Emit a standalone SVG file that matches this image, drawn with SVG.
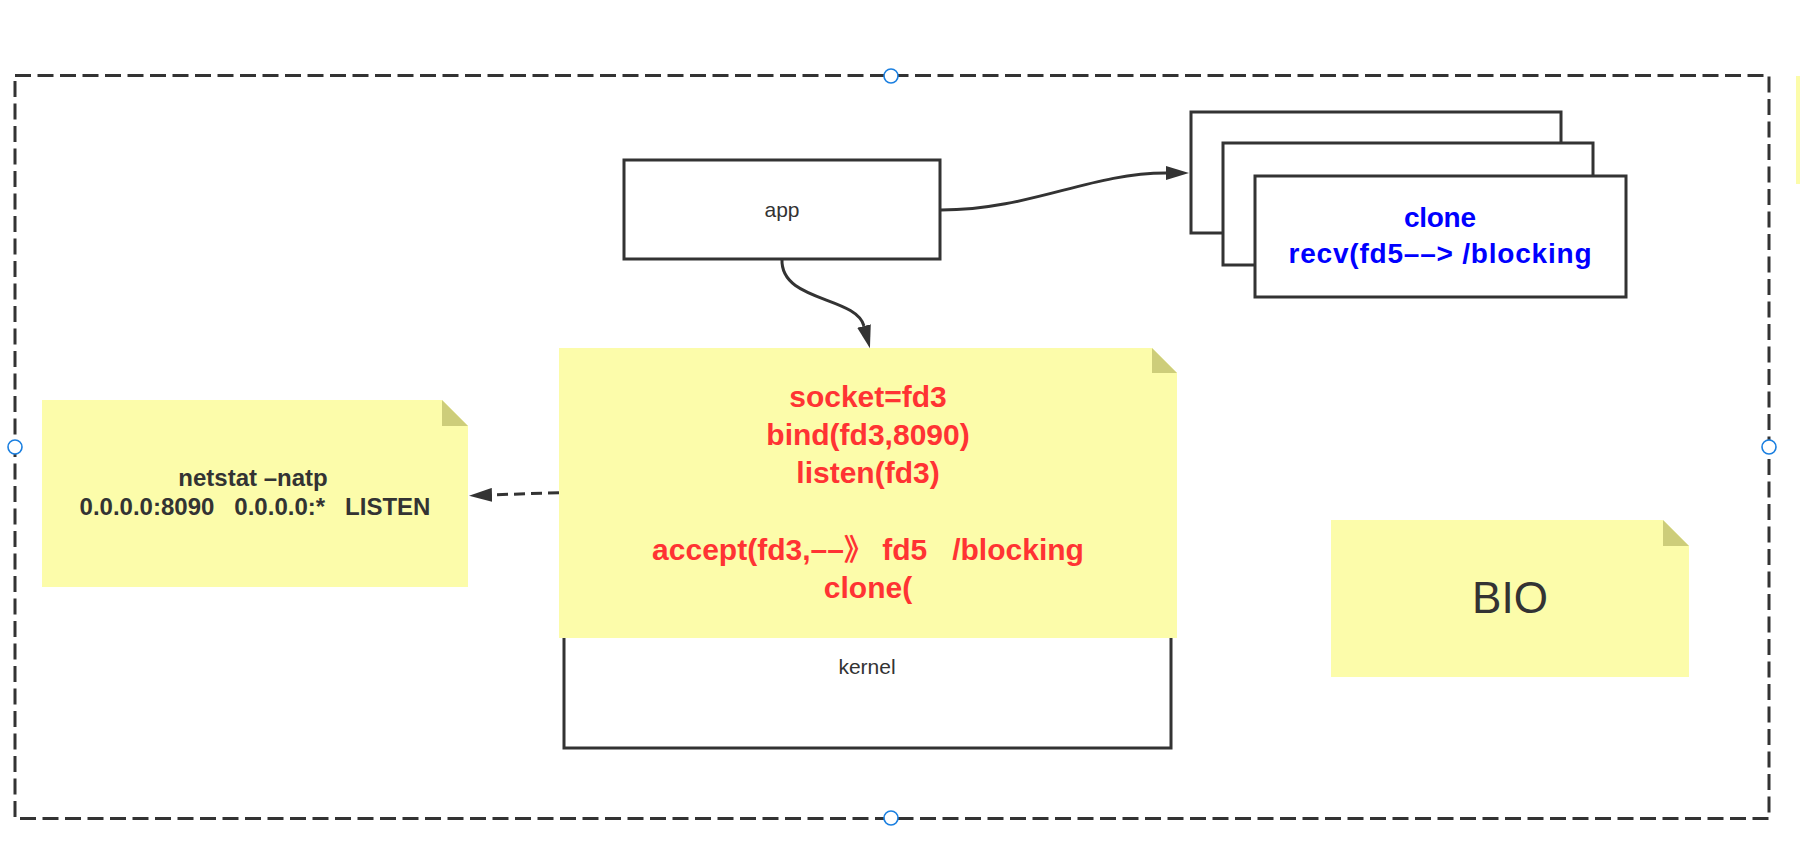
<svg xmlns="http://www.w3.org/2000/svg" width="1800" height="852" viewBox="0 0 1800 852">
  <defs>
    <style>
      .box { fill: #ffffff; stroke: #333333; stroke-width: 3; }
      .note { fill: #fcfcaa; stroke: none; }
      .fold { fill: #cdcd7a; stroke: none; }
      .frame { fill: none; stroke: #333333; stroke-width: 3; stroke-dasharray: 16 6.5; }
      .handle { fill: #ffffff; stroke: #1a7fe0; stroke-width: 1.6; }
      .conn { fill: none; stroke: #333333; stroke-width: 3; }
      .dash { stroke-dasharray: 11 6; }
      .t { font-family: "Liberation Sans", "Noto Sans CJK SC", Arial, sans-serif; text-anchor: middle; }
      .small { font-size: 21px; fill: #333333; }
      .red { font-size: 30px; font-weight: bold; fill: #ff3333; }
      .blue { font-size: 28px; font-weight: bold; fill: #0000ff; }
      .dark { font-size: 24px; font-weight: bold; fill: #333333; }
      .big { font-size: 44px; fill: #333333; }
    </style>
    <marker id="arrow" markerUnits="userSpaceOnUse" markerWidth="24" markerHeight="14" refX="0" refY="7" orient="auto">
      <path d="M0,0 L23,7 L0,14 Z" fill="#333333"/>
    </marker>
  </defs>

  <rect width="1800" height="852" fill="#ffffff"/>

  <g id="frame">
    <rect class="frame" x="15" y="75.5" width="1754" height="743"/>
    <rect x="1796" y="76" width="10" height="108" fill="#fcfcaa"/>
  </g>

  <g id="kernel">
    <rect class="box" x="564" y="480" width="607" height="268"/>
    <text class="t small" x="867" y="674">kernel</text>
  </g>

  <g id="app">
    <rect class="box" x="624" y="160" width="316" height="99"/>
    <text class="t small" x="782" y="217">app</text>
  </g>

  <g id="clones">
    <rect class="box" x="1191" y="112" width="370" height="121"/>
    <rect class="box" x="1223" y="143" width="370" height="122"/>
    <rect class="box" x="1255" y="176" width="371" height="121"/>
    <text class="t blue" x="1440" y="227" textLength="72" lengthAdjust="spacing">clone</text>
    <text class="t blue" x="1440" y="263" textLength="303" lengthAdjust="spacing">recv(fd5––&gt; /blocking</text>
  </g>

  <g id="main-note">
    <path class="note" d="M559,348 H1152 L1177,373 V638 H559 Z"/>
    <path class="fold" d="M1152,348 L1177,373 H1152 Z"/>
    <text class="t red" x="868" y="407">socket=fd3</text>
    <text class="t red" x="868" y="445">bind(fd3,8090)</text>
    <text class="t red" x="868" y="483">listen(fd3)</text>
    <text class="t red" x="868" y="560" xml:space="preserve">accept(fd3,––》 fd5   /blocking</text>
    <text class="t red" x="868" y="598">clone(</text>
  </g>

  <g id="netstat-note">
    <path class="note" d="M42,400 H442 L468,426 V587 H42 Z"/>
    <path class="fold" d="M442,400 L468,426 H442 Z"/>
    <text class="t dark" x="253" y="486">netstat –natp</text>
    <text class="t dark" x="255" y="515" xml:space="preserve">0.0.0.0:8090   0.0.0.0:*   LISTEN</text>
  </g>

  <g id="bio-note">
    <path class="note" d="M1331,520 H1663 L1689,546 V677 H1331 Z"/>
    <path class="fold" d="M1663,520 L1689,546 H1663 Z"/>
    <text class="t big" x="1510" y="613">BIO</text>
  </g>

  <g id="connectors">
    <path class="conn" d="M941,210 C1030,210 1090,173 1166,173" marker-end="url(#arrow)"/>
    <path class="conn" d="M782,259 C780,302 856,296 864,326" marker-end="url(#arrow)"/>
    <path class="conn dash" d="M559,492.7 L492,494.9" marker-end="url(#arrow)"/>
  </g>

  <g id="handles">
    <circle class="handle" cx="891" cy="76" r="7"/>
    <circle class="handle" cx="15" cy="447" r="7"/>
    <circle class="handle" cx="1769" cy="447" r="7"/>
    <circle class="handle" cx="891" cy="818" r="7"/>
  </g>
</svg>
